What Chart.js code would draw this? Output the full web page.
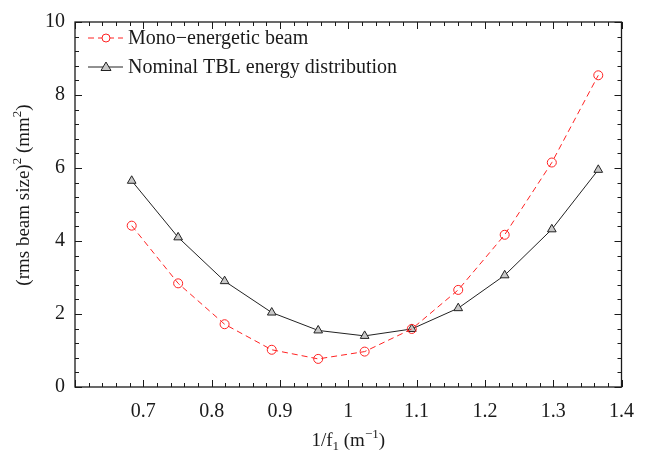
<!DOCTYPE html>
<html>
<head>
<meta charset="utf-8">
<script src="https://cdn.jsdelivr.net/npm/chart.js@4"></script>
<style>
  html, body { margin: 0; padding: 0; background: #fff; }
  #wrap { width: 647px; height: 451px; position: relative; }
</style>
</head>
<body>
<div id="wrap"><canvas id="beamChart"></canvas></div>
<script>
// data
const invFocal = [0.683, 0.751, 0.819, 0.888, 0.956, 1.024, 1.093, 1.161, 1.229, 1.298, 1.366];
const monoBeam = [4.42, 2.84, 1.72, 1.02, 0.77, 0.97, 1.59, 2.66, 4.17, 6.15, 8.54];
const nominalTBL = [5.65, 4.10, 2.90, 2.04, 1.55, 1.40, 1.59, 2.16, 3.06, 4.32, 5.95];
const xTicks = [0.7, 0.8, 0.9, 1, 1.1, 1.2, 1.3, 1.4];
const yTicks = [0, 2, 4, 6, 8, 10];

const serif = "'Liberation Serif', 'DejaVu Serif', serif";
const ink = "#1a1a1a";
const red = "#f22";
const triFill = "#c8c8c8";

const toPoints = (ys) => ys.map((y, i) => ({ x: invFocal[i], y: y }));

// draw a run of [text, kind] pieces, kind: "n" normal, "sup", "sub"
function drawRich(ctx, parts, size) {
  const small = Math.round(size * 0.68);
  let total = 0;
  parts.forEach(([t, k]) => {
    ctx.font = (k === "n" ? size : small) + "px " + serif;
    total += ctx.measureText(t).width;
  });
  let x = -total / 2;
  parts.forEach(([t, k]) => {
    ctx.font = (k === "n" ? size : small) + "px " + serif;
    const dy = k === "sup" ? -size * 0.4 : k === "sub" ? size * 0.22 : 0;
    ctx.fillText(t, x, dy);
    x += ctx.measureText(t).width;
  });
}

const framePlugin = {
  id: "frame",
  afterDraw(chart) {
    const { ctx, chartArea: a, scales } = chart;
    const xs = scales.x, ys = scales.y;
    ctx.save();
    ctx.strokeStyle = ink;
    ctx.lineWidth = 1.3;
    ctx.strokeRect(a.left, a.top, a.right - a.left, a.bottom - a.top);

    // inward ticks, all four sides
    ctx.lineWidth = 1;
    ctx.beginPath();
    for (let i = 0; i <= 40; i++) {
      const v = 0.6 + i * 0.02;
      const px = Math.round(xs.getPixelForValue(v)) + 0.5;
      const len = i % 5 === 0 ? 7 : 4;
      ctx.moveTo(px, a.bottom); ctx.lineTo(px, a.bottom - len);
      ctx.moveTo(px, a.top); ctx.lineTo(px, a.top + len);
    }
    for (let i = 0; i <= 25; i++) {
      const v = i * 0.4;
      const py = Math.round(ys.getPixelForValue(v)) + 0.5;
      const len = i % 5 === 0 ? 7 : 4;
      ctx.moveTo(a.left, py); ctx.lineTo(a.left + len, py);
      ctx.moveTo(a.right, py); ctx.lineTo(a.right - len, py);
    }
    ctx.stroke();

    // axis titles
    ctx.fillStyle = ink;
    ctx.textBaseline = "alphabetic";
    ctx.save();
    ctx.translate((a.left + a.right) / 2, 446);
    drawRich(ctx, [["1/f", "n"], ["1", "sub"], [" (m", "n"], ["\u22121", "sup"], [")", "n"]], 19);
    ctx.restore();

    ctx.save();
    ctx.translate(29, 195);
    ctx.rotate(-Math.PI / 2);
    drawRich(ctx, [["(rms beam size)", "n"], ["2", "sup"], [" (mm", "n"], ["2", "sup"], [")", "n"]], 19);
    ctx.restore();

    // legend inside plot
    const rows = [
      { y: 38, color: red, dash: [6, 4], label: "Mono\u2212energetic beam", mark: "circle" },
      { y: 67, color: "#222", dash: [], label: "Nominal TBL energy distribution", mark: "triangle" }
    ];
    rows.forEach((r) => {
      ctx.strokeStyle = r.color;
      ctx.lineWidth = 1;
      ctx.setLineDash(r.dash);
      ctx.beginPath();
      ctx.moveTo(88, r.y); ctx.lineTo(123, r.y);
      ctx.stroke();
      ctx.setLineDash([]);
      ctx.beginPath();
      if (r.mark === "circle") {
        ctx.fillStyle = "#fff";
        ctx.arc(106, r.y, 4, 0, Math.PI * 2);
        ctx.fill();
      } else {
        ctx.fillStyle = triFill;
        ctx.moveTo(106, r.y - 5); ctx.lineTo(111, r.y + 3.5); ctx.lineTo(101, r.y + 3.5); ctx.closePath();
        ctx.fill();
      }
      ctx.stroke();
      ctx.fillStyle = ink;
      ctx.font = "20px " + serif;
      ctx.textBaseline = "middle";
      ctx.fillText(r.label, 128, r.y + 1);
    });
    ctx.restore();
  }
};

new Chart(document.getElementById("beamChart"), {
  type: "line",
  data: {
    datasets: [
      {
        label: "Mono\u2212energetic beam",
        data: toPoints(monoBeam),
        borderColor: red,
        borderWidth: 1,
        borderDash: [6, 4],
        pointStyle: "circle",
        pointRadius: 4.5,
        pointBorderColor: red,
        pointBackgroundColor: "rgba(0,0,0,0)",
        pointBorderWidth: 1,
        tension: 0
      },
      {
        label: "Nominal TBL energy distribution",
        data: toPoints(nominalTBL),
        borderColor: "#222",
        borderWidth: 1,
        pointStyle: "triangle",
        pointRadius: 5,
        pointBorderColor: "#222",
        pointBackgroundColor: triFill,
        pointBorderWidth: 1,
        tension: 0
      }
    ]
  },
  options: {
    responsive: true,
    maintainAspectRatio: false,
    animation: false,
    layout: { padding: { top: 15, right: 15, left: 0, bottom: 0 } },
    plugins: { legend: { display: false }, tooltip: { enabled: false } },
    scales: {
      x: {
        type: "linear",
        min: 0.6,
        max: 1.4,
        afterBuildTicks: (s) => { s.ticks = xTicks.map((v) => ({ value: v })); },
        afterFit: (s) => { s.height = 64; },
        grid: { display: false, drawTicks: false },
        border: { display: false },
        ticks: {
          padding: 13,
          color: ink,
          font: { family: serif, size: 20 },
          callback: (v) => String(Number(v.toFixed(1)))
        }
      },
      y: {
        type: "linear",
        min: 0,
        max: 10,
        afterBuildTicks: (s) => { s.ticks = yTicks.map((v) => ({ value: v })); },
        afterFit: (s) => { s.width = 75; },
        grid: { display: false, drawTicks: false },
        border: { display: false },
        ticks: {
          padding: 10,
          color: ink,
          font: { family: serif, size: 20 }
        }
      }
    }
  },
  plugins: [framePlugin]
});
</script>
</body>
</html>
